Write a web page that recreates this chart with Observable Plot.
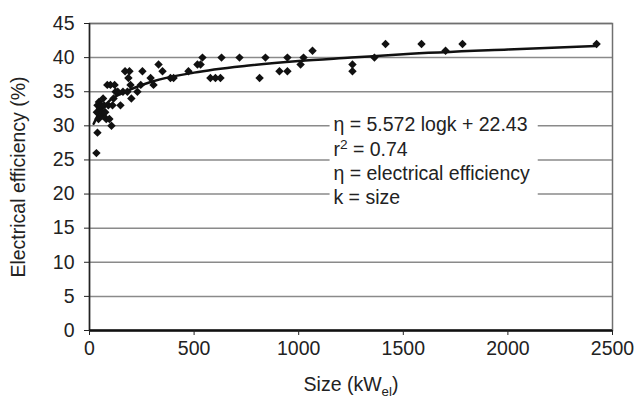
<!DOCTYPE html>
<html><head>
<meta charset="utf-8">
<script src="https://cdn.jsdelivr.net/npm/d3@7"></script>
<script src="https://cdn.jsdelivr.net/npm/@observablehq/plot@0.6"></script>
<style>body{margin:0;background:#fff}</style>
</head><body><div id="chart"></div>
<script>
// Plant size (kWel) and electrical efficiency (%)
const sizeKW = [33,38,43,35,38,45,50,55,60,62,65,70,75,80,85,90,95,100,105,110,115,120,125,135,148,160,170,181,186,191,196,200,229,245,253,292,306,330,349,387,402,473,516,531,540,578,602,626,631,717,813,841,908,946,946,1009,1023,1066,1257,1257,1362,1415,1587,1702,1783,2424];
const efficiency = [26,29,31,32,33,33.5,32.5,33,31.5,32,34,33,32,31,36,33,31,36,30,33,34,36,35,35,33,35,38,35,37,38,36,34,35,36,38,37,36,39,38,37,37,38,39,39,40,37,37,37,40,40,37,40,38,38,40,39,40,41,39,38,40,42,42,41,42,42];
// Fitted curve
const fitSize = [20,50,100,150,200,300,500,750,1000,1250,1500,2000,2424];
const fitEff = [30.3,32.1,33.8,34.7,35.4,36.5,37.8,38.8,39.5,40.0,40.5,41.2,41.7];
const xTicks = [0,500,1000,1500,2000,2500];
const yTicks = [0,5,10,15,20,25,30,35,40,45];
const noteLines = ["η = 5.572 logk + 22.43","r2 = 0.74","η = electrical efficiency","k = size"];

const noteAt = {x: 1166, y: 25};
const noteBox = {x1: 1150, x2: 2145, y1: 17.6, y2: 32.3};

const points = sizeKW.map((x,i)=>({x, y: efficiency[i]}));
const fit = fitSize.map((x,i)=>({x, y: fitEff[i]}));
const font = "'Liberation Sans', Arial, sans-serif";
const fs = 19.5;

const chart = Plot.plot({
  width: 637, height: 400,
  marginLeft: 89, marginRight: 25, marginTop: 23, marginBottom: 70,
  style: {fontSize: fs + "px", fontFamily: font, background: "white", color: "#222"},
  x: {domain: [0,2500]},
  y: {domain: [0,45]},
  marks: [
    Plot.gridY(yTicks, {stroke: "#8a8a8a", strokeOpacity: 1, strokeWidth: 1.5}),
    Plot.rect([noteBox], {x1: "x1", x2: "x2", y1: "y1", y2: "y2", fill: "white"}),
    Plot.frame({stroke: "#707070", strokeWidth: 1.5}),
    Plot.ruleX([0], {stroke: "#222", strokeWidth: 1.5}),
    Plot.ruleY([0], {stroke: "#111", strokeWidth: 2.5}),
    Plot.axisX({ticks: xTicks, tickFormat: d => String(d), tickSize: 5, tickPadding: 6, stroke: "#222",
      label: "Size (kWel)", labelAnchor: "center", labelArrow: "none", labelOffset: 60}),
    Plot.axisY({ticks: yTicks, tickSize: 5, tickPadding: 10, stroke: "#222",
      label: "Electrical efficiency (%)", labelAnchor: "center", labelArrow: "none", labelOffset: 78}),
    Plot.line(fit, {x: "x", y: "y", curve: "monotone-x", stroke: "#111", strokeWidth: 2.5}),
    Plot.dot(points, {x: "x", y: "y", symbol: "diamond2", r: 3.8, fill: "#111", stroke: "none"}),
    Plot.text([noteLines.join("\n")], {x: noteAt.x, y: noteAt.y, textAnchor: "start", lineAnchor: "middle", lineHeight: 1.25, fontSize: fs, fill: "#222"})
  ]
});
document.getElementById("chart").append(chart);

const svg = d3.select(chart);
// subscript "el" in the x-axis label
svg.selectAll("text").each(function() {
  if (this.textContent === "Size (kWel)") {
    const t = d3.select(this);
    t.text("Size (kW");
    t.append("tspan").attr("dy", 5).attr("font-size", "0.68em").text("el");
    t.append("tspan").attr("dy", -5).text(")");
  }
});
// superscript 2 in r2
svg.selectAll("tspan").each(function() {
  if (this.textContent === "r2 = 0.74") {
    const t = d3.select(this);
    t.text("r");
    t.append("tspan").attr("dy", -7).attr("font-size", "0.7em").text("2");
    t.append("tspan").attr("dy", 7).text(" = 0.74");
  }
});
</script>
</body></html>
